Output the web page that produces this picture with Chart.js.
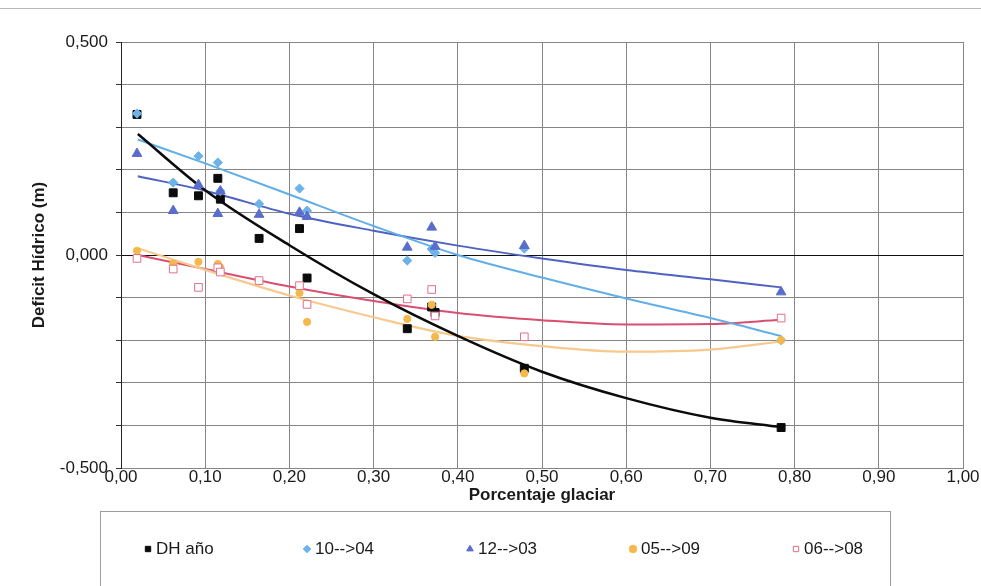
<!DOCTYPE html>
<html>
<head>
<meta charset="utf-8">
<script src="https://cdn.jsdelivr.net/npm/chart.js@4.4.1/dist/chart.umd.min.js"></script>
<style>
  html, body { margin: 0; padding: 0; background: #fff; }
  #wrap { position: relative; width: 981px; height: 586px; }
  #wrap:before { content: ''; position: absolute; left: 0; right: 0; top: 8px; border-top: 1px solid #b8b8b8; }
</style>
</head>
<body>
<div id="wrap"><canvas id="deficitCanvas" width="981" height="586"></canvas></div>
<script>
// glacier fraction of each basin (x) and water deficit per period (y, m)
const glacierPct = [0.019, 0.062, 0.092, 0.115, 0.118, 0.164, 0.212, 0.221, 0.340, 0.369, 0.373, 0.479, 0.784];
const dhAnual = [0.330, 0.146, 0.139, 0.180, 0.131, 0.039, 0.062, -0.054, -0.173, -0.122, -0.135, -0.266, -0.405];
const dh10a04 = [0.332, 0.170, 0.232, 0.217, 0.150, 0.120, 0.156, 0.104, -0.013, 0.014, 0.005, 0.015, -0.200];
const dh12a03 = [0.238, 0.104, 0.165, 0.097, 0.150, 0.095, 0.100, 0.090, 0.018, 0.065, 0.020, 0.022, -0.087];
const dh05a09 = [0.010, -0.020, -0.016, -0.021, -0.029, -0.062, -0.089, -0.157, -0.150, -0.117, -0.192, -0.278, -0.200];
const dh06a08 = [-0.008, -0.033, -0.076, -0.030, -0.040, -0.060, -0.072, -0.116, -0.103, -0.081, -0.143, -0.192, -0.148];

// trend curves, read along the glacier axis
const trendX = [0.02, 0.1, 0.2, 0.3, 0.4, 0.5, 0.6, 0.7, 0.784];
const trendAnual = [0.284, 0.152, 0.023, -0.092, -0.190, -0.274, -0.336, -0.382, -0.404];
const trend10a04 = [0.271, 0.215, 0.142, 0.068, 0.000, -0.053, -0.102, -0.148, -0.190];
const trend12a03 = [0.185, 0.151, 0.097, 0.057, 0.022, -0.008, -0.035, -0.057, -0.076];
const trend05a09 = [0.016, -0.035, -0.095, -0.146, -0.190, -0.214, -0.227, -0.222, -0.203];
const trend06a08 = [0.000, -0.033, -0.074, -0.108, -0.136, -0.153, -0.163, -0.162, -0.152];

const legendX = [148, 307, 470, 633, 796];

const FONT = '"Liberation Sans", Arial, sans-serif';

function points(ys) {
  return glacierPct.map((x, i) => ({ x, y: ys[i] }));
}
function trend(ys) {
  return trendX.map((x, i) => ({ x, y: ys[i] }));
}
function comma(v, d) {
  if (Math.abs(v) < 1e-9) v = 0;
  return v.toFixed(d).replace('.', ',');
}

// later series sit on top of earlier ones, all markers above the curves
function markerSet(label, ys, style, radius, fill, stroke, order) {
  return {
    label,
    data: points(ys),
    pointStyle: style,
    pointRadius: radius,
    pointHoverRadius: radius,
    backgroundColor: fill,
    borderColor: stroke,
    borderWidth: 1,
    showLine: false,
    order
  };
}
function trendSet(ys, color, width) {
  return {
    label: '',
    trend: true,
    data: trend(ys),
    showLine: true,
    borderColor: color,
    borderWidth: width,
    pointRadius: 0,
    cubicInterpolationMode: 'monotone',
    fill: false,
    order: 10
  };
}

// legend drawn inside its own framed box under the axis title
const boxedLegend = {
  id: 'boxedLegend',
  afterDraw(chart, args, opts) {
    const ctx = chart.ctx;
    ctx.save();
    ctx.strokeStyle = '#9c9c9c';
    ctx.lineWidth = 1;
    ctx.strokeRect(opts.left + 0.5, opts.top + 0.5, opts.right - opts.left, opts.bottom - opts.top);
    ctx.font = '17px ' + FONT;
    ctx.textBaseline = 'middle';
    ctx.textAlign = 'left';
    let n = 0;
    chart.data.datasets.forEach(ds => {
      if (ds.trend) return;
      const x = legendX[n++];
      ctx.fillStyle = ds.backgroundColor;
      ctx.strokeStyle = ds.borderColor;
      ctx.lineWidth = 1;
      Chart.helpers.drawPoint(ctx, { pointStyle: ds.pointStyle, radius: 3.8, rotation: 0, borderWidth: 1 }, x, opts.y);
      ctx.fillStyle = '#1a1a1a';
      ctx.fillText(ds.label, x + 8, opts.y);
    });
    ctx.restore();
  }
};

new Chart(document.getElementById('deficitCanvas'), {
  type: 'scatter',
  data: {
    datasets: [
      markerSet('DH año', dhAnual, 'rect', 5.6, '#0b0b0b', '#0b0b0b', 5),
      markerSet('10-->04', dh10a04, 'rectRot', 4.6, '#6db3ea', '#6db3ea', 4),
      markerSet('12-->03', dh12a03, 'triangle', 5.6, '#5a6dcb', '#5a6dcb', 3),
      markerSet('05-->09', dh05a09, 'circle', 3.6, '#f5b84a', '#f5b84a', 2),
      markerSet('06-->08', dh06a08, 'rect', 5.4, '#ffffff', '#e06f8b', 1),
      trendSet(trendAnual, '#0b0b0b', 2.5),
      trendSet(trend10a04, '#62aee6', 2),
      trendSet(trend12a03, '#4e62c2', 2),
      trendSet(trend05a09, '#f6c98f', 2.2),
      trendSet(trend06a08, '#d94f72', 2)
    ]
  },
  options: {
    responsive: false,
    animation: false,
    events: [],
    layout: { padding: { top: 42, right: 18, bottom: 78, left: 27 } },
    plugins: {
      legend: { display: false },
      tooltip: { enabled: false },
      boxedLegend: { left: 100, right: 890, top: 511, bottom: 590, y: 549 }
    },
    scales: {
      x: {
        type: 'linear',
        min: 0,
        max: 1,
        ticks: {
          stepSize: 0.1,
          padding: -1,
          color: '#1a1a1a',
          font: { family: FONT, size: 17 },
          maxRotation: 0,
          callback: v => comma(v, 2)
        },
        grid: { color: '#858585', lineWidth: 1, drawTicks: false },
        border: { color: '#858585' },
        title: {
          display: true,
          text: 'Porcentaje glaciar',
          color: '#1a1a1a',
          font: { family: FONT, size: 17, weight: 'bold' },
          padding: { top: 0, bottom: 2 }
        },
        afterFit: axis => { axis.height = 40; }
      },
      y: {
        type: 'linear',
        min: -0.5,
        max: 0.5,
        ticks: {
          stepSize: 0.1,
          padding: 8,
          color: '#1a1a1a',
          font: { family: FONT, size: 17 },
          callback: v => (Math.round(v * 10) % 5 === 0 ? comma(v, 3) : '')
        },
        grid: {
          color: c => (c.tick && Math.abs(c.tick.value) < 1e-9 ? '#111' : '#858585'),
          lineWidth: 1,
          tickLength: 5,
          tickColor: '#333'
        },
        border: { color: '#222' },
        title: {
          display: true,
          text: 'Deficit Hídrico (m)',
          color: '#1a1a1a',
          font: { family: FONT, size: 17, weight: 'bold' },
          padding: { top: 2, bottom: 0 }
        },
        afterFit: axis => { axis.width = 94; }
      }
    }
  },
  plugins: [boxedLegend]
});
</script>
</body>
</html>
